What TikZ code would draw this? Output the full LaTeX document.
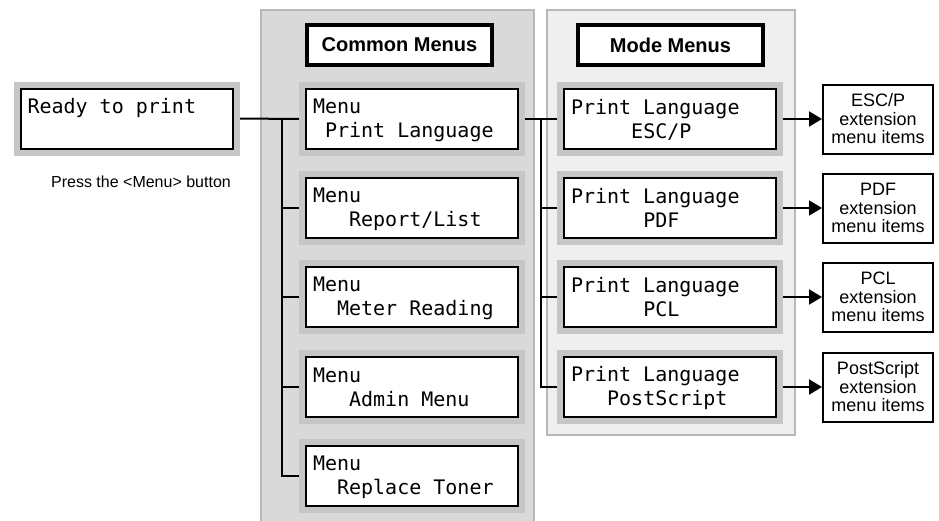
\documentclass[tikz,border=0pt]{standalone}
\usepackage{fontspec}
\setmainfont{Liberation Sans}
\newfontfamily\lcdfont{DejaVu Sans Mono}
\usetikzlibrary{arrows.meta,backgrounds}
\definecolor{commonbg}{HTML}{D9D9D9}
\definecolor{modebg}{HTML}{EFEFEF}
\definecolor{panelline}{HTML}{B8B8B8}
\definecolor{lcdframe}{HTML}{C6C6C6}
\newcommand\lcdstrut{\rule[-3pt]{0pt}{20pt}}
\newcommand\lcdlines[2]{\lcdstrut#1\\\lcdstrut#2}
\newcommand\pad[1]{\phantom{#1}}
\newcommand\lcdsp{\phantom{x}}

\begin{document}
\begin{tikzpicture}[x=1pt,y=-1pt,
    lcd/.style={draw=black,line width=2pt,fill=white,
      preaction={draw=lcdframe,line width=14pt},
      minimum width=212pt,minimum height=60pt,text width=198pt,
      inner xsep=7pt,inner ysep=0pt,align=left,
      font=\lcdfont\fontsize{20}{24}\selectfont},
    title/.style={draw=black,line width=3.5pt,fill=white,
      minimum width=185pt,minimum height=40pt,
      font=\bfseries\fontsize{20}{24}\selectfont},
    extbox/.style={draw=black,line width=2pt,fill=white,
      minimum width=110pt,minimum height=69pt,inner sep=0pt,align=center,
      font=\fontsize{18}{18.5}\selectfont},
    wire/.style={line width=2pt},
    arr/.style={line width=2pt,-{Triangle[length=13pt,width=15pt]}}]
\useasboundingbox (0,0) rectangle (939,520);

% panels
\begin{scope}[on background layer]
\draw[panelline,line width=1.2pt,fill=commonbg] (261,10) rectangle (534,530);
\draw[panelline,line width=1.2pt,fill=modebg] (547,10) rectangle (795,435);
\end{scope}

\node[title] (commont) at (399.5,45) {Common Menus};
\node[title] (modet) at (670.5,45) {Mode Menus};

\node[lcd,minimum width=211pt] (ready) at (126.5,118.5) {\lcdlines{Ready\lcdsp to\lcdsp print}{}};
\node[font=\fontsize{16}{18}\selectfont] (press) at (141,182) {Press the <Menu> button};

% common menus
\node[lcd] (plang) at (412,119) {\lcdlines{Menu}{\pad{x}Print\lcdsp Language}};
\node[lcd] (report) at (412,208) {\lcdlines{Menu}{\pad{xxx}Report/List}};
\node[lcd] (meter) at (412,297) {\lcdlines{Menu}{\pad{xx}Meter\lcdsp Reading}};
\node[lcd] (admin) at (412,387) {\lcdlines{Menu}{\pad{xxx}Admin\lcdsp Menu}};
\node[lcd] (toner) at (412,476) {\lcdlines{Menu}{\pad{xx}Replace\lcdsp Toner}};

% mode menus
\node[lcd] (escp) at (670,119) {\lcdlines{Print\lcdsp Language}{\pad{xxxxx}ESC/P}};
\node[lcd] (pdf) at (670,208) {\lcdlines{Print\lcdsp Language}{\pad{xxxxxx}PDF}};
\node[lcd] (pcl) at (670,297) {\lcdlines{Print\lcdsp Language}{\pad{xxxxxx}PCL}};
\node[lcd] (pscript) at (670,387) {\lcdlines{Print\lcdsp Language}{\pad{xxx}PostScript}};

\node[extbox] (escpx) at (878,119) {ESC/P\\extension\\menu items};
\node[extbox] (pdfx) at (878,208) {PDF\\extension\\menu items};
\node[extbox] (pclx) at (878,297) {PCL\\extension\\menu items};
\node[extbox] (pscriptx) at (878,387) {PostScript\\extension\\menu items};

\coordinate (ctrunk) at (282,0);
\coordinate (mtrunk) at (541,0);

% connectors
\begin{scope}[on background layer]
\draw[wire] (ready.east) -- (plang.west);
\draw[wire] (ready.east -| ctrunk) |- (toner.west);
\foreach \m in {report,meter,admin}
  \draw[wire] (ctrunk |- \m.west) -- (\m.west);
\draw[wire] (plang.east) -- (escp.west);
\draw[wire] (plang.east -| mtrunk) |- (pscript.west);
\foreach \m in {pdf,pcl}
  \draw[wire] (mtrunk |- \m.west) -- (\m.west);
\foreach \m in {escp,pdf,pcl,pscript}
  \draw[arr] (\m.east) -- (\m x.west);
\end{scope}
\end{tikzpicture}
\end{document}
